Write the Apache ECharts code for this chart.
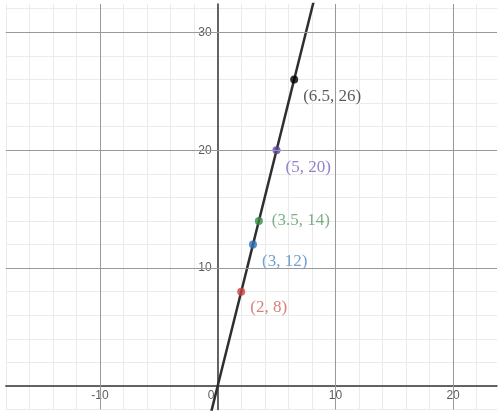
<!DOCTYPE html>
<html>
<head>
<meta charset="utf-8">
<script src="https://cdn.jsdelivr.net/npm/echarts@6/dist/echarts.min.js"></script>
<style>
html,body{margin:0;padding:0;background:#fff;}
#chart{width:504px;height:420px;}
</style>
</head>
<body>
<div id="chart"></div>
<script>
// Data
const pointX = [2, 3, 3.5, 5, 6.5];
const pointY = [8, 12, 14, 20, 26];
const pointLabels = ['(2, 8)', '(3, 12)', '(3.5, 14)', '(5, 20)', '(6.5, 26)'];
// line y = 4x, endpoints beyond the view
const lineX = [-1, 9];
const lineY = [-4, 36];
// major grid lines and tick labels
const xTickVals = [-10, 10, 20];
const yTickVals = [10, 20, 30];
const originLabel = '0';
const xMin = -18, xMax = 23.73, yMin = -2, yMax = 32.4;

// Styles
const pointColors = ['#c74440', '#2d70b3', '#388c46', '#6042a6', '#000000'];
const labelColors = ['#d0605c', '#5189c4', '#5a9e66', '#7a62b6', '#333333'];
const labelOffsets = [[0, 16], [0, 17], [4, 0], [0, 17], [0, 17]];

const chart = echarts.init(document.getElementById('chart'), null, {renderer: 'canvas'});

const scatterData = pointX.map((x, i) => ({
  value: [x, pointY[i]],
  itemStyle: {color: pointColors[i]},
  label: {
    show: true,
    formatter: pointLabels[i],
    color: labelColors[i],
    offset: labelOffsets[i]
  }
}));

const tickFont = {fontFamily: 'Liberation Sans, Arial, sans-serif', fontSize: 12, color: '#333'};

const option = {
  backgroundColor: '#ffffff',
  animation: false,
  grid: {left: 5.8, right: 7, top: 4, bottom: 10.4, containLabel: false, outerBoundsMode: 'none'},
  xAxis: {
    type: 'value', min: xMin, max: xMax, interval: 2,
    axisLine: {onZero: true, lineStyle: {color: '#333', width: 1.5}},
    axisTick: {show: false},
    axisLabel: {show: false},
    splitLine: {show: true, showMaxLine: false, lineStyle: {color: '#ebebeb', width: 1}}
  },
  yAxis: {
    type: 'value', min: yMin, max: yMax, interval: 2,
    axisLine: {onZero: true, lineStyle: {color: '#333', width: 1.5}},
    axisTick: {show: false},
    axisLabel: {show: false},
    splitLine: {show: true, showMaxLine: false, lineStyle: {color: '#ebebeb', width: 1}}
  },
  series: [
    {
      type: 'line',
      z: 1,
      data: lineX.map((x, i) => [x, lineY[i]]),
      showSymbol: false,
      lineStyle: {width: 0, opacity: 0},
      silent: true,
      markLine: {
        silent: true,
        symbol: ['none', 'none'],
        label: {show: false},
        lineStyle: {color: '#999999', width: 1, type: 'solid'},
        data: xTickVals.map(v => ({xAxis: v})).concat(yTickVals.map(v => ({yAxis: v})))
      }
    },
    {
      type: 'line',
      z: 3,
      data: lineX.map((x, i) => [x, lineY[i]]),
      showSymbol: false,
      clip: true,
      lineStyle: {color: '#2f2f2f', width: 2.5},
      silent: true
    },
    {
      // x tick labels
      type: 'scatter', z: 2, silent: true, symbolSize: 0,
      data: xTickVals.map(v => ({value: [v, 0], label: {formatter: String(v)}})),
      label: Object.assign({show: true, position: 'bottom', distance: 4}, tickFont)
    },
    {
      // y tick labels
      type: 'scatter', z: 2, silent: true, symbolSize: 0,
      data: yTickVals.map(v => ({value: [0, v], label: {formatter: String(v)}})),
      label: Object.assign({show: true, position: 'left', distance: 6}, tickFont)
    },
    {
      // origin label
      type: 'scatter', z: 2, silent: true, symbolSize: 0,
      data: [{value: [0, 0], label: {formatter: originLabel}}],
      label: Object.assign({show: true, position: 'bottom', distance: 4, offset: [-6.5, 0]}, tickFont)
    },
    {
      type: 'scatter',
      z: 4,
      symbolSize: 8,
      data: scatterData,
      label: {
        show: true,
        position: 'right',
        distance: 5,
        fontFamily: 'Liberation Serif, Times New Roman, serif',
        fontSize: 17
      }
    }
  ]
};
chart.setOption(option);
</script>
</body>
</html>
